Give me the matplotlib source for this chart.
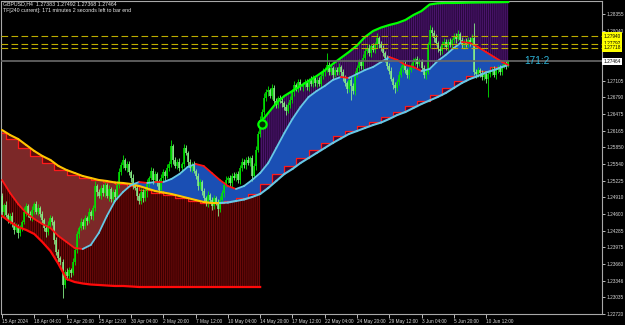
import numpy as np
import matplotlib
matplotlib.use("Agg")
import matplotlib.pyplot as plt
from matplotlib.collections import LineCollection

plt.rcParams['font.family'] = ['Liberation Sans', 'DejaVu Sans']
plt.rcParams['hatch.linewidth'] = 0.55

# ---------------- data ----------------
symbol_line = "GBPUSD,H4  1.27383 1.27492 1.27368 1.27464"
timer_line = "TF[240 current]: 171 minutes 2 seconds left to bar end"
countdown = "171:2"

first_open = 1.24937
closes = [
    1.24636, 1.24767, 1.24580, 1.24486, 1.24561, 1.24411, 1.24298, 1.24373, 1.24242, 1.24335,
    1.24448, 1.24636, 1.24749, 1.24598, 1.24523, 1.24674, 1.24786, 1.24636, 1.24711, 1.24598,
    1.24486, 1.24335, 1.24260, 1.24392, 1.24523, 1.24448, 1.24110, 1.23885, 1.23772, 1.23697,
    1.23265, 1.23509, 1.23434, 1.23547, 1.23490, 1.23697, 1.23922, 1.24223, 1.24335, 1.24448,
    1.24373, 1.24523, 1.24467, 1.24636, 1.24561, 1.24711, 1.25124, 1.25012, 1.24937, 1.25087,
    1.24993, 1.25143, 1.24937, 1.25068, 1.24880, 1.25012, 1.24918, 1.25143, 1.25387, 1.25519,
    1.25613, 1.25462, 1.25538, 1.25387, 1.25275, 1.25124, 1.25087, 1.24937, 1.24843, 1.25012,
    1.24899, 1.25049, 1.25162, 1.25275, 1.25406, 1.25237, 1.25350, 1.25199, 1.25049, 1.25275,
    1.25387, 1.25312, 1.25462, 1.25538, 1.25876, 1.25613, 1.25500, 1.25575, 1.25462, 1.25538,
    1.25838, 1.25744, 1.25575, 1.25462, 1.25519, 1.25406, 1.25312, 1.25124, 1.25199, 1.25030,
    1.24899, 1.24805, 1.24955, 1.24861, 1.24749, 1.24899, 1.24824, 1.24692, 1.24861, 1.24993,
    1.25143, 1.25237, 1.25275, 1.25181, 1.25312, 1.25275, 1.25350, 1.25237, 1.25462, 1.25575,
    1.25519, 1.25613, 1.25556, 1.25650, 1.25312, 1.25500, 1.25801, 1.26101, 1.26364, 1.26514,
    1.26777, 1.26890, 1.26928, 1.26815, 1.26965, 1.26721, 1.26646, 1.26777, 1.26721, 1.26683,
    1.26608, 1.26533, 1.26646, 1.26740, 1.26890, 1.27021, 1.26946, 1.27078, 1.26984, 1.27040,
    1.27078, 1.26984, 1.27115, 1.27040, 1.27153, 1.27059, 1.27115, 1.27040, 1.27190, 1.27266,
    1.27303, 1.27397, 1.27266, 1.27341, 1.27209, 1.27303, 1.27266, 1.27360, 1.27266, 1.27153,
    1.27059, 1.26946, 1.27115, 1.27003, 1.26909, 1.27209, 1.27341, 1.27453, 1.27378, 1.27529,
    1.27660, 1.27716, 1.27623, 1.27754, 1.27679, 1.27773, 1.27904, 1.27792, 1.27716, 1.27623,
    1.27529, 1.27378, 1.27284, 1.27134, 1.27021, 1.26965, 1.27078, 1.27209, 1.27341, 1.27416,
    1.27303, 1.27209, 1.27303, 1.27378, 1.27453, 1.27510, 1.27416, 1.27472, 1.27341, 1.27209,
    1.27266, 1.27773, 1.28055, 1.27998, 1.27904, 1.27810, 1.27698, 1.27660, 1.27792, 1.27829,
    1.27735, 1.27829, 1.27773, 1.27867, 1.27942, 1.27885, 1.27979, 1.27867, 1.27773, 1.27829,
    1.27792, 1.27867, 1.27829, 1.27904, 1.27266, 1.27228, 1.27303, 1.27247, 1.27172, 1.27228,
    1.27134, 1.27228, 1.27266, 1.27303, 1.27209, 1.27303, 1.27341, 1.27266, 1.27378, 1.27416,
    1.27383, 1.27464,
]
# upper / lower wick lengths in pips
hi_wick = [
    6, 4, 8, 3, 5, 7, 4, 6, 3, 5,
    4, 9, 6, 3, 5, 8, 4, 6, 7, 3,
    5, 4, 6, 8, 5, 3, 4, 6, 5, 4,
    6, 3, 8, 5, 4, 7, 5, 6, 4, 8,
    5, 6, 3, 7, 4, 6, 9, 4, 5, 6,
    7, 5, 4, 8, 3, 6, 5, 7, 8, 5,
    9, 4, 6, 5, 3, 7, 4, 5, 6, 8,
    5, 6, 10, 4, 7, 5, 6, 4, 5, 7,
    6, 4, 8, 5, 12, 4, 6, 5, 7, 4,
    8, 5, 4, 6, 5, 7, 3, 5, 6, 4,
    5, 4, 7, 3, 5, 6, 4, 5, 7, 6,
    5, 7, 4, 6, 5, 8, 4, 6, 5, 7,
    6, 5, 8, 4, 6, 5, 7, 6, 8, 5,
    9, 6, 7, 4, 8, 5, 6, 4, 5, 7,
    4, 6, 5, 8, 6, 7, 4, 6, 5, 4,
    5, 6, 4, 7, 5, 4, 6, 5, 7, 8,
    6, 22, 5, 7, 4, 6, 5, 7, 4, 5,
    6, 4, 7, 5, 6, 8, 5, 6, 4, 7,
    6, 5, 7, 4, 6, 5, 9, 4, 6, 5,
    4, 6, 5, 7, 4, 5, 6, 7, 5, 6,
    5, 4, 6, 5, 7, 4, 6, 5, 4, 6,
    5, 5, 9, 6, 5, 7, 4, 6, 5, 8,
    6, 5, 7, 4, 6, 5, 8, 4, 6, 5,
    7, 5, 6, 8, 28, 5, 6, 4, 5, 6,
    5, 6, 4, 5, 7, 4, 6, 5, 4, 6,
    5, 2.8,
]
lo_wick = [
    5, 7, 4, 6, 8, 5, 7, 4, 9, 6,
    5, 4, 7, 6, 3, 5, 8, 4, 6, 5,
    7, 6, 9, 5, 4, 6, 8, 5, 7, 6,
    24, 6, 8, 5, 7, 4, 6, 5, 8, 4,
    6, 5, 7, 4, 6, 8, 5, 7, 4, 6,
    5, 7, 4, 9, 6, 5, 7, 4, 6, 5,
    6, 4, 7, 5, 8, 6, 4, 7, 5, 6,
    7, 5, 14, 6, 4, 7, 5, 8, 6, 4,
    5, 7, 4, 6, 5, 8, 4, 6, 5, 7,
    6, 4, 7, 5, 8, 4, 6, 7, 5, 8,
    6, 5, 7, 4, 8, 6, 5, 14, 6, 5,
    7, 4, 6, 5, 8, 4, 6, 5, 7, 6,
    5, 7, 4, 6, 10, 5, 7, 4, 6, 5,
    6, 5, 7, 4, 6, 8, 5, 6, 4, 7,
    5, 8, 4, 6, 5, 7, 4, 6, 5, 7,
    6, 5, 7, 4, 6, 5, 8, 4, 6, 5,
    7, 4, 6, 5, 8, 4, 6, 5, 7, 6,
    5, 7, 6, 26, 5, 7, 4, 6, 5, 7,
    4, 6, 5, 7, 4, 6, 5, 8, 6, 5,
    7, 5, 6, 4, 8, 9, 5, 6, 4, 7,
    6, 5, 7, 4, 6, 5, 8, 4, 6, 5,
    7, 4, 6, 5, 7, 4, 6, 8, 5, 6,
    5, 7, 4, 6, 5, 8, 4, 6, 5, 7,
    6, 5, 7, 4, 6, 8, 5, 7, 6, 5,
    7, 34, 5, 6, 4, 7, 5, 6, 5, 4,
    6, 1.5,
]

# indicator lines sampled every 4 bars (+ last bar)
grid_bars = list(range(0, 249, 4)) + [251]
fast_ma = [
    1.25237, 1.24993, 1.24786, 1.24617, 1.24505, 1.24411, 1.24335, 1.24185, 1.24073, 1.23960,
    1.23941, 1.24016, 1.24242, 1.24561, 1.24843, 1.25012, 1.25143, 1.25199, 1.25181, 1.25199,
    1.25199, 1.25256, 1.25350, 1.25481, 1.25538, 1.25500, 1.25369, 1.25237, 1.25124, 1.25068,
    1.25124, 1.25237, 1.25369, 1.25556, 1.25838, 1.26120, 1.26383, 1.26608, 1.26796, 1.26909,
    1.27003, 1.27115, 1.27172, 1.27153, 1.27228, 1.27303, 1.27360, 1.27453, 1.27547, 1.27491,
    1.27397, 1.27360, 1.27284, 1.27322, 1.27472, 1.27585, 1.27716, 1.27829, 1.27810, 1.27735,
    1.27641, 1.27547, 1.27453, 1.27397,
]
slow_ma = [
    1.26176, 1.26082, 1.26007, 1.25894, 1.25782, 1.25688, 1.25613, 1.25500, 1.25425, 1.25369,
    1.25312, 1.25275, 1.25237, 1.25218, 1.25190, 1.25181, 1.25162, 1.25124, 1.25077, 1.25030,
    1.25002, 1.24974, 1.24937, 1.24899, 1.24861, 1.24824, 1.24805, 1.24805, 1.24814, 1.24843,
    1.24871, 1.24918, 1.24974, 1.25087, 1.25218, 1.25350, 1.25444, 1.25556, 1.25650, 1.25744,
    1.25838, 1.25932, 1.26017, 1.26101, 1.26157, 1.26214, 1.26270, 1.26317, 1.26383, 1.26458,
    1.26514, 1.26589, 1.26665, 1.26730, 1.26796, 1.26871, 1.26965, 1.27059, 1.27134, 1.27190,
    1.27256, 1.27303, 1.27360, 1.27397,
]
lower_bars = list(range(0, 129, 4))
lower_band = [
    1.24561, 1.24448, 1.24354, 1.24298, 1.24223, 1.24073, 1.23903, 1.23659, 1.23378, 1.23321,
    1.23293, 1.23274, 1.23265, 1.23255, 1.23246, 1.23246, 1.23237, 1.23227, 1.23227, 1.23227,
    1.23227, 1.23227, 1.23227, 1.23227, 1.23227, 1.23227, 1.23227, 1.23227, 1.23227, 1.23227,
    1.23227, 1.23227, 1.23227,
]
upper_bars = list(range(128, 249, 4)) + [251]
upper_band = [
    1.26308, 1.26496, 1.26683, 1.26815, 1.26909, 1.27003, 1.27097, 1.27190, 1.27294, 1.27416,
    1.27529, 1.27641, 1.27763, 1.27923, 1.28036, 1.28101, 1.28148, 1.28186, 1.28242, 1.28336,
    1.28411, 1.28533, 1.28556, 1.28562, 1.28562, 1.28565, 1.28569, 1.28571, 1.28573, 1.28575,
    1.28577, 1.28580,
]
# daily (6-bar) step line
step_starts = [0] + list(range(2, 249, 6))
step_levels = [
    1.26129, 1.26007, 1.25838, 1.25688, 1.25556, 1.25425, 1.25340, 1.25275, 1.25228, 1.25190,
    1.25171, 1.25124, 1.25049, 1.25002, 1.24955, 1.24899, 1.24843, 1.24805, 1.24805, 1.24843,
    1.24899, 1.24974, 1.25153, 1.25350, 1.25500, 1.25650, 1.25791, 1.25932, 1.26063, 1.26157,
    1.26242, 1.26317, 1.26420, 1.26514, 1.26627, 1.26730, 1.26834, 1.26965, 1.27097, 1.27190,
    1.27284, 1.27360, 1.27397,
]
signal_bar = 129
signal_price = 1.26290
level_lines = [1.27940, 1.27792, 1.27718]
level_labels = ["1.27940", "1.27792", "1.27718"]
current_price = 1.27464
current_label = "1.27464"

ytick_values = [1.28355, 1.28040, 1.27725, 1.27410, 1.27105, 1.26790, 1.26475, 1.26165,
                1.25850, 1.25540, 1.25225, 1.24910, 1.24600, 1.24285, 1.23975, 1.23660,
                1.23346, 1.23035, 1.22720]
ytick_labels = ["1.28355", "1.28040", "", "", "1.27105", "1.26790", "1.26475", "1.26165",
                "1.25850", "1.25540", "1.25225", "1.24910", "1.24600", "1.24285", "1.23975",
                "1.23660", "1.23346", "1.23035", "1.22720"]
xtick_bars = list(range(0, 241, 16))
xtick_labels = ["15 Apr 2024", "18 Apr 04:00", "22 Apr 20:00", "25 Apr 12:00", "30 Apr 04:00",
                "2 May 20:00", "7 May 12:00", "10 May 04:00", "14 May 20:00", "17 May 12:00",
                "22 May 04:00", "24 May 20:00", "29 May 12:00", "3 Jun 04:00", "5 Jun 20:00",
                "10 Jun 12:00"]

assert len(closes) == len(hi_wick) == len(lo_wick)
assert len(fast_ma) == len(slow_ma) == len(grid_bars)

# ---------------- figure ----------------
W, H = 625, 325
fig = plt.figure(figsize=(W / 100, H / 100), dpi=100, facecolor='black')
ax = fig.add_axes([1.5 / W, 11 / H, 600 / W, 313 / H], facecolor='black')
ax.set_xlim(-0.25, 297.25)
ax.set_ylim(1.22720, 1.28599)

gb = np.array(grid_bars, dtype=float)
fa = np.array(fast_ma)
sl = np.array(slow_ma)
nlow = len(lower_bars)

# bearish histogram (bottom band up to lower MA)
ax.fill_between(lower_bars, lower_band, np.minimum(fa[:nlow], sl[:nlow]),
                facecolor='#3a0000', edgecolor='#7a0c0c', hatch='|' * 8,
                linewidth=0, zorder=1)
# bullish histogram (upper MA up to top band)
k0 = len(grid_bars) - len(upper_bars)
ax.fill_between(upper_bars, np.maximum(fa[k0:], sl[k0:]), upper_band,
                facecolor='#2a0840', edgecolor='#541878', hatch='|' * 8,
                linewidth=0, zorder=1)

# cloud between MAs
ax.fill_between(gb, fa, sl, where=fa < sl, interpolate=True,
                facecolor='#7c2828', linewidth=0, zorder=2)
ax.fill_between(gb, fa, sl, where=fa >= sl, interpolate=True,
                facecolor='#1a4fb4', linewidth=0, zorder=2)

# step triangles + step line
ends = step_starts[1:] + [251]
for k in range(1, len(step_starts)):
    s0, e0 = step_starts[k], ends[k]
    prev, lev = step_levels[k - 1], step_levels[k]
    col = '#5a0c0c' if lev < prev else '#3e0c3c'
    ax.fill([s0, s0, e0], [prev, lev, lev], color=col, linewidth=0, zorder=3)
ax.step(step_starts + [251], step_levels + [step_levels[-1]], where='post',
        color='#ff1a1a', lw=0.9, zorder=4)

# candles
n = len(closes)
bars = np.arange(n)
c = np.array(closes)
o = np.concatenate([[first_open], c[:-1]])
hi = np.maximum(o, c) + np.array(hi_wick) * 0.0001
lo = np.minimum(o, c) - np.array(lo_wick) * 0.0001
cols = np.where(c >= o, '#00e600', '#88f088')
ax.vlines(bars, lo, hi, colors=cols, lw=0.6, zorder=5)
ax.vlines(bars, np.minimum(o, c), np.maximum(o, c), colors=cols, lw=1.1, zorder=5)

# MA lines coloured by slope
def slope_lines(y, up_col, down_col, lw):
    pts = np.column_stack([gb, y])
    segs = np.stack([pts[:-1], pts[1:]], axis=1)
    cl = [up_col if y[i + 1] > y[i] else down_col for i in range(len(y) - 1)]
    ax.add_collection(LineCollection(segs, colors=cl, linewidths=lw,
                                     capstyle='round', zorder=6))

slope_lines(sl, '#66c8e6', '#ffc400', 1.5)
slope_lines(fa, '#66c8e6', '#ff1414', 1.3)

ax.plot(lower_bars, lower_band, color='#ff0a0a', lw=1.6, zorder=6)
ax.plot(upper_bars, upper_band, color='#00ff00', lw=1.6, zorder=6)
ax.plot([signal_bar], [signal_price], marker='o', ms=6, mfc='#003000',
        mec='#00ff00', mew=1.6, zorder=7)

# horizontal levels
for p in level_lines:
    ax.axhline(p, color='#bfae00', lw=0.8, dashes=(6, 3), zorder=7)
ax.axhline(current_price, color='#6a6a6a', lw=1.2, zorder=7)

# axes styling
for sp in ax.spines.values():
    sp.set_color('#a8a8a8')
    sp.set_linewidth(0.8)
ax.yaxis.tick_right()
ax.set_yticks(ytick_values)
ax.set_yticklabels(ytick_labels)
ax.set_xticks(xtick_bars)
ax.set_xticklabels(xtick_labels)
ax.tick_params(axis='y', colors='#d8d8d8', labelsize=3.4, length=2, width=0.6, pad=1.5)
ax.tick_params(axis='x', colors='#d8d8d8', labelsize=3.4, length=3, width=0.6, pad=0.8)
for lab in ax.get_xticklabels():
    lab.set_ha('left')

ytr = ax.get_yaxis_transform()
for p, t in zip(level_lines, level_labels):
    ax.text(1.0035, p, t, transform=ytr, ha='left', va='center', fontsize=3.4,
            color='black', clip_on=False, zorder=10,
            bbox=dict(boxstyle='square,pad=0.25', fc='#ffff00', ec='none'))
ax.text(1.0035, current_price, current_label, transform=ytr, ha='left', va='center',
        fontsize=3.4, color='black', clip_on=False, zorder=10,
        bbox=dict(boxstyle='square,pad=0.25', fc='white', ec='none'))

ax.text(0.8715, current_price, countdown, transform=ytr, ha='left', va='center',
        fontsize=7.3, color='#2fb5d8', zorder=10)

fig.text(3 / W, 1 - 4 / H, symbol_line, ha='left', va='center', fontsize=3.8, color='#e8e8e8')
fig.text(3 / W, 1 - 10.5 / H, timer_line, ha='left', va='center', fontsize=3.8, color='#e8e8e8')

fig.savefig('out.png', dpi=100, facecolor='black')
